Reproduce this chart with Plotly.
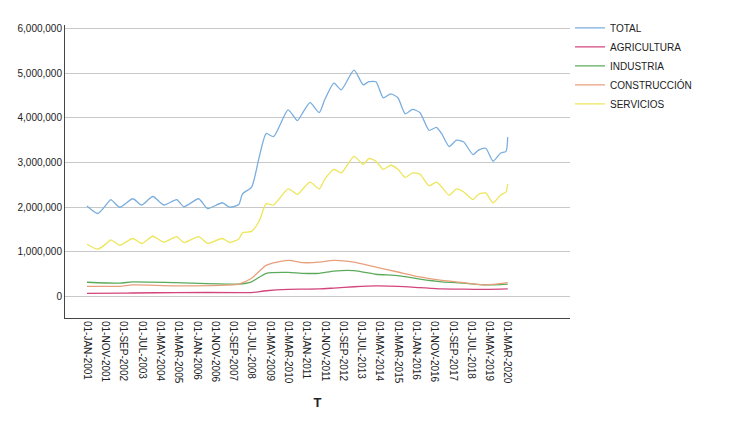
import plotly.graph_objects as go

main_dates = ["2001-01","2001-07","2001-12","2002-02","2002-07","2003-02","2003-07","2004-01","2004-07","2005-02",
"2005-06","2006-02","2006-07","2007-03","2007-07","2007-12","2008-02","2008-07","2008-11","2009-03",
"2009-07","2010-03","2010-08","2010-11","2011-03","2011-08","2011-11","2012-04","2012-08","2013-03",
"2013-08","2013-11","2014-03","2014-07","2014-11","2015-03","2015-07","2015-11","2016-03","2016-08",
"2016-12","2017-03","2017-07","2017-11","2018-03","2018-08","2018-11","2019-03","2019-07","2019-11",
"2020-02","2020-03"]
total = [2030000,1860000,2080000,2170000,2000000,2190000,2050000,2240000,2050000,2170000,
2010000,2190000,1970000,2100000,2000000,2060000,2300000,2450000,3100000,3650000,
3580000,4180000,3940000,4120000,4340000,4120000,4410000,4780000,4630000,5070000,
4740000,4810000,4810000,4450000,4540000,4450000,4090000,4190000,4120000,3720000,
3790000,3640000,3360000,3500000,3460000,3180000,3280000,3320000,3030000,3210000,
3250000,3570000]
servicios = [1170000,1060000,1200000,1270000,1150000,1300000,1190000,1350000,1220000,1340000,
1210000,1340000,1190000,1300000,1210000,1290000,1430000,1460000,1680000,2080000,
2050000,2410000,2290000,2410000,2560000,2410000,2630000,2850000,2770000,3140000,
2960000,3090000,3030000,2850000,2940000,2850000,2670000,2770000,2740000,2480000,
2560000,2450000,2270000,2410000,2340000,2170000,2290000,2320000,2100000,2270000,
2340000,2520000]

sector_dates = ["2001-01","2002-07","2003-02","2005-02","2007-12","2008-07","2009-03","2010-03","2010-11",
"2011-08","2012-04","2013-03","2014-03","2015-03","2016-03","2017-03","2018-03","2019-03","2020-03"]
construccion = [230000,230000,260000,240000,280000,410000,700000,810000,760000,770000,810000,770000,
660000,550000,440000,360000,310000,260000,310000]
industria = [320000,300000,330000,310000,280000,330000,520000,540000,520000,520000,570000,580000,
500000,470000,390000,330000,300000,260000,280000]
agricultura = [70000,75000,80000,90000,90000,90000,130000,160000,165000,170000,190000,220000,
240000,230000,200000,170000,165000,160000,170000]

tick_vals = ["2001-01-01","2001-11-01","2002-09-01","2003-07-01","2004-05-01","2005-03-01","2006-01-01",
"2006-11-01","2007-09-01","2008-07-01","2009-05-01","2010-03-01","2011-01-01","2011-11-01","2012-09-01",
"2013-07-01","2014-05-01","2015-03-01","2016-01-01","2016-11-01","2017-09-01","2018-07-01","2019-05-01","2020-03-01"]
tick_text = ["01-JAN-2001","01-NOV-2001","01-SEP-2002","01-JUL-2003","01-MAY-2004","01-MAR-2005","01-JAN-2006",
"01-NOV-2006","01-SEP-2007","01-JUL-2008","01-MAY-2009","01-MAR-2010","01-JAN-2011","01-NOV-2011","01-SEP-2012",
"01-JUL-2013","01-MAY-2014","01-MAR-2015","01-JAN-2016","01-NOV-2016","01-SEP-2017","01-JUL-2018","01-MAY-2019","01-MAR-2020"]

fig = go.Figure()
series = [("TOTAL", main_dates, total, "#7aaede"),
          ("AGRICULTURA", sector_dates, agricultura, "#d3457c"),
          ("INDUSTRIA", sector_dates, industria, "#5cab5c"),
          ("CONSTRUCCIÓN", sector_dates, construccion, "#e8a07c"),
          ("SERVICIOS", main_dates, servicios, "#ede65a")]
for name, d, v, c in series:
    fig.add_trace(go.Scatter(x=d, y=v, name=name, mode="lines",
                             line=dict(color=c, width=1.3, shape="spline", smoothing=0.6)))

fig.update_layout(
    width=750, height=442, paper_bgcolor="white", plot_bgcolor="white",
    margin=dict(l=57, r=188, t=5, b=132),
    font=dict(family="Liberation Sans, Arial", size=10, color="#222"),
    showlegend=True,
    legend=dict(x=1.0, y=1.04, xanchor="left", yanchor="top", font=dict(size=10),
                tracegroupgap=0, itemwidth=30),
    xaxis=dict(type="date", range=["2000-01-01", "2023-01-01"], tickvals=tick_vals, ticktext=tick_text,
               tickangle=90, showgrid=False, showline=True, linecolor="#444", ticks="",
               title=dict(text="<b>T</b>", font=dict(size=13)), zeroline=False),
    yaxis=dict(range=[-480000, 6080000], tickvals=[0,1000000,2000000,3000000,4000000,5000000,6000000],
               tickformat=",d", showgrid=True, gridcolor="#c8c8c8", showline=True, linecolor="#444",
               zeroline=False, ticks=""),
)
fig.write_html("out.html")
